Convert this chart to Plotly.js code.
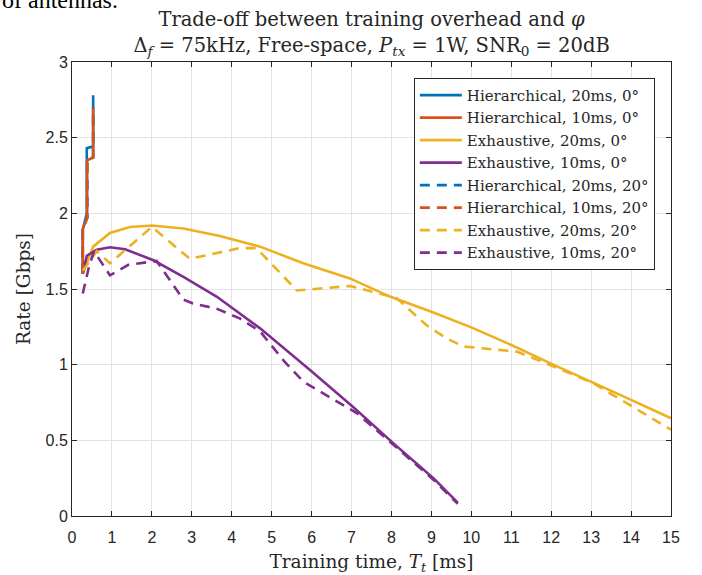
<!DOCTYPE html>
<html>
<head>
<meta charset="utf-8">
<script src="https://cdn.plot.ly/plotly-3.0.1.min.js"></script>
<style>html,body{margin:0;padding:0;background:#fff;}#chart{width:702px;height:575px;}</style>
</head>
<body>
<div id="chart"></div>
<script>
// ---- data (training time in ms, rate in Gbps) ----
var hier20_0_x = [0.27, 0.27, 0.37, 0.37, 0.49, 0.53, 0.53];
var hier20_0_y = [1.61, 1.89, 2.00, 2.43, 2.44, 2.43, 2.78];
var hier10_0_x = [0.27, 0.27, 0.38, 0.38, 0.53, 0.53];
var hier10_0_y = [1.60, 1.90, 1.97, 2.35, 2.37, 2.70];

var exh20_0_x = [0.27, 0.53, 0.95, 1.45, 2.0, 2.79, 3.7, 4.71, 5.79, 6.96, 7.96, 9.0, 9.97, 11.0, 12.05, 13.0, 14.0, 15.0];
var exh20_0_y = [1.60, 1.78, 1.87, 1.91, 1.92, 1.90, 1.85, 1.78, 1.67, 1.57, 1.45, 1.35, 1.25, 1.13, 1.00, 0.888, 0.767, 0.646];

var exh10_0_x = [0.27, 0.37, 0.62, 0.95, 1.33, 2.04, 2.79, 3.62, 4.71, 5.96, 7.04, 8.05, 9.05, 9.66];
var exh10_0_y = [1.60, 1.72, 1.76, 1.776, 1.763, 1.69, 1.58, 1.45, 1.24, 0.965, 0.72, 0.48, 0.25, 0.088];

var hier20_20_x = [0.27, 0.27, 0.38, 0.38, 0.53, 0.53];
var hier20_20_y = [1.60, 1.90, 1.97, 2.35, 2.37, 2.70];
var hier10_20_x = [0.27, 0.27, 0.38, 0.38, 0.53, 0.53];
var hier10_20_y = [1.60, 1.90, 1.97, 2.35, 2.37, 2.70];

var exh20_20_x = [0.27, 0.62, 0.95, 2.0, 2.95, 4.2, 4.62, 5.63, 6.96, 8.13, 8.88, 9.38, 9.8, 11.14, 12.05, 13.06, 15.0];
var exh20_20_y = [1.62, 1.75, 1.67, 1.91, 1.70, 1.77, 1.77, 1.49, 1.52, 1.44, 1.26, 1.174, 1.12, 1.086, 0.99, 0.877, 0.57];

var exh10_20_x = [0.27, 0.41, 0.55, 0.95, 1.41, 2.12, 2.79, 3.03, 3.62, 4.2, 4.71, 5.29, 5.79, 6.71, 7.13, 8.05, 9.05, 9.66];
var exh10_20_y = [1.47, 1.63, 1.75, 1.59, 1.66, 1.685, 1.43, 1.405, 1.37, 1.306, 1.22, 1.03, 0.888, 0.745, 0.68, 0.47, 0.24, 0.08];

var names = [
  'Hierarchical, 20ms, 0°', 'Hierarchical, 10ms, 0°', 'Exhaustive, 20ms, 0°', 'Exhaustive, 10ms, 0°',
  'Hierarchical, 20ms, 20°', 'Hierarchical, 10ms, 20°', 'Exhaustive, 20ms, 20°', 'Exhaustive, 10ms, 20°'
];
var colors = ['#0072BD', '#D95319', '#EDB120', '#7E2F8E'];

var xs = [hier20_0_x, hier10_0_x, exh20_0_x, exh10_0_x, hier20_20_x, hier10_20_x, exh20_20_x, exh10_20_x];
var ys = [hier20_0_y, hier10_0_y, exh20_0_y, exh10_0_y, hier20_20_y, hier10_20_y, exh20_20_y, exh10_20_y];

var traces = [];
for (var i = 0; i < 8; i++) {
  traces.push({
    x: xs[i], y: ys[i], name: names[i], type: 'scatter', mode: 'lines',
    line: {color: colors[i % 4], width: 2.6, dash: i < 4 ? 'solid' : '10px,7px'}
  });
}

var serif = '"DejaVu Serif", "Liberation Serif", serif';
var sans = '"Liberation Sans", Arial, sans-serif';
var axisCommon = {
  showgrid: true, gridcolor: '#e3e3e3', gridwidth: 1,
  showline: true, linecolor: '#262626', linewidth: 1, mirror: 'ticks',
  ticks: 'inside', ticklen: 5, tickcolor: '#262626', zeroline: false,
  tickfont: {family: sans, size: 16, color: '#262626'}
};

var layout = {
  width: 702, height: 575,
  paper_bgcolor: '#ffffff', plot_bgcolor: '#ffffff',
  margin: {l: 72, r: 31, t: 62, b: 59},
  showlegend: true,
  title: {
    text: 'Trade-off between training overhead and <i>φ</i><br>Δ<sub><i>f</i></sub> = 75kHz, Free-space, <i>P</i><sub><i>tx</i></sub> = 1W, SNR<sub>0</sub> = 20dB',
    font: {family: serif, size: 19.5, color: '#262626'},
    x: 0.5293, xanchor: 'center', y: 0.954, yanchor: 'top'
  },
  xaxis: Object.assign({}, axisCommon, {
    range: [0, 15], dtick: 1, tick0: 0, ticklabelstandoff: 7,
    title: {text: 'Training time, <i>T</i><sub><i>t</i></sub> [ms]', font: {family: serif, size: 18.5, color: '#262626'}, standoff: 11}
  }),
  yaxis: Object.assign({}, axisCommon, {
    range: [0, 3], dtick: 0.5, tick0: 0,
    title: {text: 'Rate [Gbps]', font: {family: serif, size: 18.5, color: '#262626'}, standoff: 10}
  }),
  legend: {
    x: 0.973, xanchor: 'right', y: 0.965, yanchor: 'top',
    bgcolor: '#ffffff', bordercolor: '#262626', borderwidth: 1,
    font: {family: serif, size: 15, color: '#262626'},
    itemwidth: 42, tracegroupgap: 0
  },
  annotations: [{
    text: 'of antennas.', xref: 'paper', yref: 'paper',
    x: -0.1202, xanchor: 'left', y: 1.103, yanchor: 'bottom',
    showarrow: false, font: {family: '"Liberation Serif", serif', size: 24, color: '#000000'}
  }]
};

Plotly.newPlot('chart', traces, layout, {displayModeBar: false, staticPlot: true});
</script>
</body>
</html>
